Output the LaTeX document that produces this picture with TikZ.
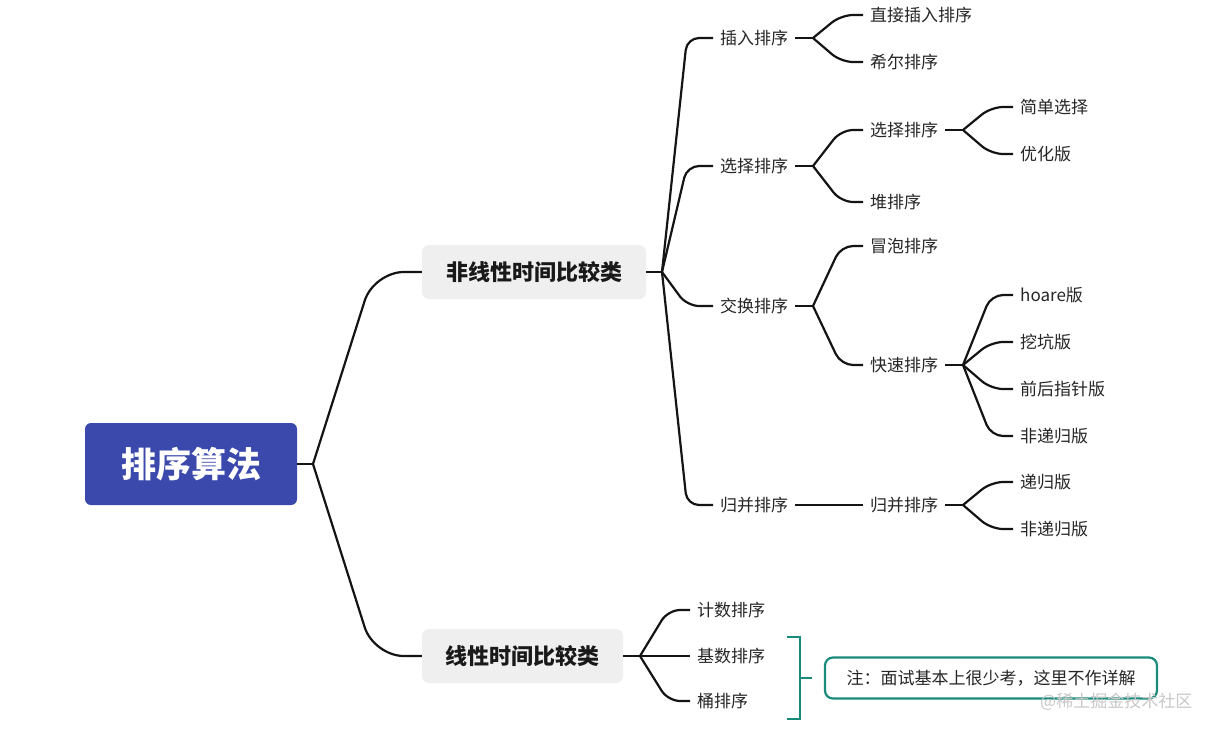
\documentclass[tikz,border=0pt]{standalone}
\usepackage{fontspec}
\setmainfont{Noto Sans CJK SC}
\usetikzlibrary{calc}
\definecolor{rootblue}{RGB}{58,73,171}
\definecolor{lvgray}{RGB}{239,239,239}
\definecolor{lnk}{RGB}{20,20,20}
\definecolor{tealc}{RGB}{24,140,124}
\definecolor{wmc}{RGB}{200,200,200}
\newcommand\fanto[4][22]{\draw[conn] (#2) -- ([xshift=-#1pt]#3.west) -- (#3.west);}
\begin{document}
\begin{tikzpicture}[x=1pt,y=-1pt,
  leaf/.style={anchor=west, inner xsep=7pt, inner ysep=0pt, text height=15pt, text depth=2pt,
    font=\fontsize{17}{19}\selectfont, text=black!85},
  rootbox/.style={fill=rootblue, rounded corners=6pt, minimum width=212pt, minimum height=82pt,
    text=white, font=\fontsize{35}{38}\selectfont\bfseries, inner sep=0pt},
  lvbox/.style={fill=lvgray, rounded corners=7pt, minimum height=54pt, inner sep=0pt,
    text=black!90, font=\fontsize{22}{24}\selectfont\bfseries},
  conn/.style={draw=lnk, line width=2.2pt, rounded corners=12pt},
  bigconn/.style={draw=lnk, line width=2.2pt, rounded corners=30pt},
  bracket/.style={draw=tealc, line width=2.2pt},
  notebox/.style={draw=tealc, line width=2.2pt, rounded corners=8pt, minimum width=332pt, minimum height=41pt,
    inner sep=0pt, text height=15pt, text depth=2pt, font=\fontsize{17}{19}\selectfont, text=black!85},
  wm/.style={text=wmc, font=\fontsize{17}{19}\selectfont, inner sep=0pt, text height=15pt, text depth=2pt}
]
\useasboundingbox (0,0) rectangle (1221,732);
\fill[white] (0,0) rectangle (1221,732);

% nodes
\node[rootbox] (root) at (191,464) {排序算法};
\node[lvbox, minimum width=224pt] (nl) at (534,272) {非线性时间比较类};
\node[lvbox, minimum width=201pt] (ln) at (522.5,656) {线性时间比较类};

\node[leaf] (a1) at (713,38) {插入排序};
\node[leaf] (a2) at (713,166) {选择排序};
\node[leaf] (a3) at (713,306) {交换排序};
\node[leaf] (a4) at (713,505) {归并排序};

\node[leaf] (b1) at (863,15) {直接插入排序};
\node[leaf] (b2) at (863,62) {希尔排序};
\node[leaf] (b3) at (863,130) {选择排序};
\node[leaf] (b4) at (863,202) {堆排序};
\node[leaf] (b5) at (863,246) {冒泡排序};
\node[leaf] (b6) at (863,365) {快速排序};
\node[leaf] (b7) at (863,505) {归并排序};

\node[leaf] (c1) at (1013,107) {简单选择};
\node[leaf] (c2) at (1013,154) {优化版};
\node[leaf] (c3) at (1013,295) {hoare版};
\node[leaf] (c4) at (1013,342) {挖坑版};
\node[leaf] (c5) at (1013,389) {前后指针版};
\node[leaf] (c6) at (1013,436) {非递归版};
\node[leaf] (c7) at (1013,482) {递归版};
\node[leaf] (c8) at (1013,529) {非递归版};

\node[leaf] (d1) at (690,610) {计数排序};
\node[leaf] (d2) at (690,656) {基数排序};
\node[leaf] (d3) at (690,701) {桶排序};

% junctions
\coordinate (j0) at (313,464);
\coordinate (jA) at (662,272);
\coordinate (jB1) at (813,38);
\coordinate (jB2) at (813,166);
\coordinate (jB3) at (813,306);
\coordinate (jC1) at (963,130);
\coordinate (jC2) at (963,365);
\coordinate (jC3) at (963,505);
\coordinate (jD) at (640,656);

% root fan
\draw[conn] (root.east) -- (j0);
\draw[bigconn] (j0) -- ([xshift=-48pt]nl.west) -- (nl.west);
\draw[bigconn] (j0) -- ([xshift=-48pt]ln.west) -- (ln.west);

% non-linear fan
\draw[conn] (nl.east) -- (jA);
\fanto[26]{jA}{a1}{}
\fanto[26]{jA}{a2}{}
\fanto[26]{jA}{a3}{}
\fanto[26]{jA}{a4}{}

\draw[conn] (a1.east) -- (jB1);
\fanto{jB1}{b1}{}
\fanto{jB1}{b2}{}
\draw[conn] (a2.east) -- (jB2);
\fanto{jB2}{b3}{}
\fanto{jB2}{b4}{}
\draw[conn] (a3.east) -- (jB3);
\fanto{jB3}{b5}{}
\fanto{jB3}{b6}{}
\draw[conn] (a4.east) -- (b7.west);

\draw[conn] (b3.east) -- (jC1);
\fanto{jC1}{c1}{}
\fanto{jC1}{c2}{}
\draw[conn] (b6.east) -- (jC2);
\fanto{jC2}{c3}{}
\fanto{jC2}{c4}{}
\fanto{jC2}{c5}{}
\fanto{jC2}{c6}{}
\draw[conn] (b7.east) -- (jC3);
\fanto{jC3}{c7}{}
\fanto{jC3}{c8}{}

% linear fan
\draw[conn] (ln.east) -- (jD);
\fanto{jD}{d1}{}
\draw[conn] (jD) -- (d2.west);
\fanto{jD}{d3}{}

% bracket and note
\node[notebox] (note) at (991,678) {注：面试基本上很少考，这里不作详解};
\coordinate (brt) at (800,637);
\coordinate (brb) at (800,719);
\coordinate (brm) at (800,678);
\coordinate (brtick) at (812,678);
\draw[bracket] ([xshift=-13pt]brt) -- (brt) -- (brb) -- ([xshift=-13pt]brb);
\draw[bracket] (brm) -- (brtick);

% watermark
\node[wm, anchor=west] (wmk) at (1040,701) {@稀土掘金技术社区};
\end{tikzpicture}
\end{document}
